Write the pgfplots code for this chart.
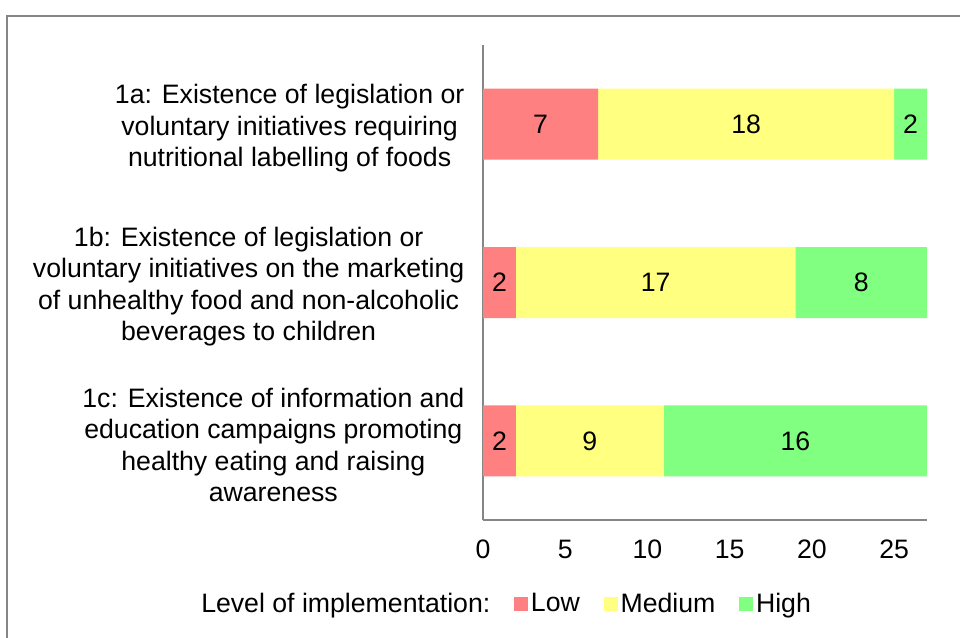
\documentclass[border=0pt]{standalone}
\usepackage{pgfplots}
\pgfplotsset{compat=1.18}
\usepackage{fontspec}
\setmainfont{Liberation Sans}
\definecolor{cLow}{HTML}{FF8080}
\definecolor{cMed}{HTML}{FFFF80}
\definecolor{cHigh}{HTML}{80FF80}
\definecolor{axgray}{HTML}{868686}
\pgfplotsset{sqleg/.style={legend image code/.code={\fill[##1] (0pt,-5.25pt) rectangle (10.5pt,5.25pt);}}}
\begin{document}
\begin{tikzpicture}[font=\fontsize{20}{23.5}\selectfont]
\useasboundingbox (0pt,0pt) rectangle (720pt,477.75pt);
\draw[color=axgray, line width=1.5pt] (4.875pt,-10pt) -- (4.875pt,465.75pt) -- (730pt,465.75pt);
\begin{axis}[
  at={(362.25pt,87.75pt)}, anchor=south west,
  scale only axis, width=333pt, height=356.25pt,
  xbar stacked, bar width=53.25pt,
  xmin=0, xmax=27, ymin=-0.5, ymax=2.5,
  axis lines*=left,
  axis line style={axgray, line width=1pt, -},
  xtick={0,5,10,15,20,25}, ytick={0,1,2},
  major tick length=0pt,
  yticklabels={
    {1c: Existence of information and\\education campaigns promoting\\healthy eating and raising\\awareness},
    {1b: Existence of legislation or\\voluntary initiatives on the marketing\\of unhealthy food and non-alcoholic\\beverages to children},
    {1a: Existence of legislation or\\voluntary initiatives requiring\\nutritional labelling of foods}},
  yticklabel style={align=center, xshift=-10.5pt, yshift=-3pt},
  xticklabel style={yshift=-11.5pt},
  /pgf/number format/assume math mode=true,
  legend columns=-1,
  legend style={at={(rel axis cs:0.052,-0.176)}, anchor=center, draw=none, fill=none,
    /tikz/every even column/.append style={column sep=16pt}},
]
\addlegendimage{empty legend}
\addlegendentry{Level of implementation:}
\addplot[fill=cLow, draw=none, sqleg] coordinates {(2,0) (2,1) (7,2)};
\addlegendentry{Low}
\addplot[fill=cMed, draw=none, sqleg] coordinates {(9,0) (17,1) (18,2)};
\addlegendentry{Medium}
\addplot[fill=cHigh, draw=none, sqleg] coordinates {(16,0) (8,1) (2,2)};
\addlegendentry{High}
\end{axis}
\begin{axis}[
  at={(362.25pt,87.75pt)}, anchor=south west,
  scale only axis, width=333pt, height=356.25pt,
  xmin=0, xmax=27, ymin=-0.5, ymax=2.5,
  hide axis, clip=false,
  nodes near coords align={center},
]
\addplot[only marks, mark=*, mark size=0pt, mark options={draw=none,fill=none},
  point meta=explicit symbolic, nodes near coords,
  every node near coord/.append style={anchor=center, inner sep=0pt}]
  coordinates {
  (1,0) [2] (6.5,0) [9] (19,0) [16]
  (1,1) [2] (10.5,1) [17] (23,1) [8]
  (3.5,2) [7] (16,2) [18] (26,2) [2]
  };
\end{axis}
\end{tikzpicture}
\end{document}
